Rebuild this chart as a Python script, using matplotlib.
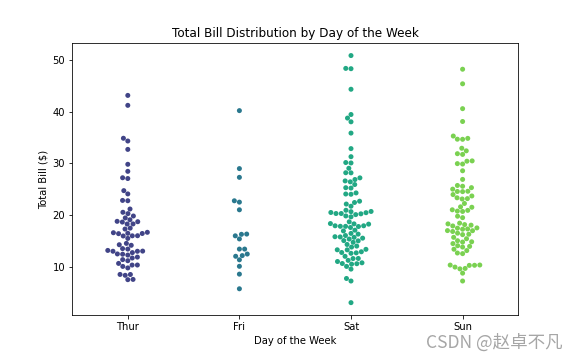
import matplotlib
matplotlib.use("Agg")
import matplotlib.pyplot as plt
import pandas as pd
import seaborn as sns

# total_bill values per day (tips data)
DAYS = ["Thur", "Fri", "Sat", "Sun"]

thur = [27.20, 22.76, 17.29, 19.44, 16.66, 10.07, 32.68, 15.98, 34.83, 13.03,
        18.28, 24.71, 21.16, 10.65, 12.43, 24.08, 11.69, 13.42, 14.26, 15.95,
        12.48, 29.80, 8.52, 14.52, 11.38, 22.82, 19.08, 20.27, 11.17, 12.26,
        18.26, 8.51, 10.33, 14.15, 16.00, 13.16, 17.47, 34.30, 41.19, 27.05,
        16.43, 8.35, 18.64, 11.87, 9.78, 7.51, 19.81, 28.44, 15.48, 16.58,
        7.56, 10.34, 43.11, 13.00, 13.51, 18.71, 12.74, 13.00, 16.40, 20.53,
        16.47, 18.78]

fri = [28.97, 22.49, 5.75, 16.32, 22.75, 40.17, 27.28, 12.03, 21.01, 12.46,
       11.35, 15.38, 12.16, 13.42, 8.58, 15.98, 13.42, 16.27, 10.09]

sat = [20.65, 17.92, 20.29, 15.77, 39.42, 19.82, 17.81, 13.37, 12.69, 21.70,
       19.65, 9.55, 18.35, 15.06, 20.69, 17.78, 24.06, 16.31, 16.93, 18.69,
       31.27, 16.04, 38.01, 26.41, 11.24, 48.27, 20.29, 13.81, 11.02, 18.29,
       17.59, 20.08, 16.45, 3.07, 20.23, 15.01, 12.02, 17.07, 26.86, 25.28,
       14.73, 10.51, 17.92, 44.30, 22.42, 20.92, 15.36, 20.49, 25.21, 18.24,
       14.31, 14.00, 7.25, 10.59, 10.63, 50.81, 15.81, 26.59, 38.73, 24.27,
       12.76, 30.06, 25.89, 48.33, 13.27, 28.17, 12.90, 28.15, 11.59, 7.74,
       30.14, 20.45, 13.28, 22.12, 24.01, 15.69, 11.61, 10.77, 15.53, 10.07,
       12.60, 32.83, 35.83, 29.03, 27.18, 22.67, 17.82]

sun = [16.99, 10.34, 21.01, 23.68, 24.59, 25.29, 8.77, 26.88, 15.04, 14.78,
       10.27, 35.26, 15.42, 18.43, 14.83, 21.58, 10.33, 16.29, 16.97, 17.46,
       13.94, 9.68, 30.40, 18.29, 22.23, 32.40, 28.55, 18.04, 12.54, 10.29,
       34.81, 9.94, 25.56, 19.49, 38.07, 23.95, 25.71, 17.31, 29.93, 14.07,
       13.13, 17.26, 24.55, 19.77, 29.85, 48.17, 25.00, 13.39, 16.49, 21.50,
       12.66, 16.21, 13.81, 17.51, 24.52, 20.76, 31.71, 7.25, 31.85, 16.82,
       32.90, 17.89, 14.48, 9.60, 34.63, 34.65, 23.33, 45.35, 23.17, 40.55,
       20.69, 20.90, 30.46, 18.15, 23.10, 15.69]

df = pd.DataFrame({
    "day": ["Thur"] * len(thur) + ["Fri"] * len(fri) + ["Sat"] * len(sat) + ["Sun"] * len(sun),
    "total_bill": thur + fri + sat + sun,
})

fig, ax = plt.subplots(figsize=(8, 5), dpi=72)
fig.subplots_adjust(left=0.125, right=0.9, top=0.88, bottom=0.125)
sns.swarmplot(data=df, x="day", y="total_bill", hue="day", order=DAYS,
              hue_order=DAYS, palette="viridis", legend=False, ax=ax)
ax.set_title("Total Bill Distribution by Day of the Week")
ax.set_xlabel("Day of the Week")
ax.set_ylabel("Total Bill ($)")

# CSDN watermark
fig.text(0.977, 0.033, "CSDN @赵卓不凡", ha="right", va="baseline", fontsize=17.5,
         color="#a6a6a6", family=["Noto Sans CJK SC", "DejaVu Sans"])

fig.savefig("out.png", dpi=72)
